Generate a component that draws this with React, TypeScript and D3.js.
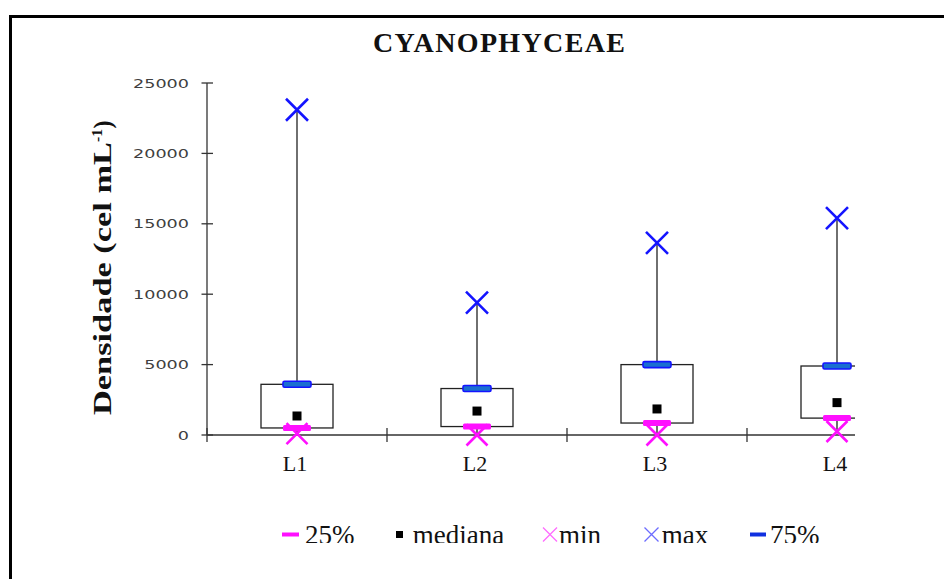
import React from "react";
import * as d3 from "d3";

// Cyanophyceae density per site: min, quartiles, median and max (cel mL-1)
const categories = ["L1", "L2", "L3", "L4"];
const minVals = [100, 0, 0, 250];
const q25Vals = [500, 600, 850, 1200];
const medianVals = [1350, 1700, 1850, 2300];
const q75Vals = [3600, 3300, 5000, 4900];
const maxVals = [23100, 9400, 13650, 15400];
const yTicks = [0, 5000, 10000, 15000, 20000, 25000];

const W = 944;
const H = 579;

const serif = "Liberation Serif, Times New Roman, DejaVu Serif, serif";
const sans = "DejaVu Sans, Verdana, sans-serif";

const MAGENTA = "#ff10ff";
const BLUE = "#1414ff";

function Cross({ cx, cy, r, color, width }: { cx: number; cy: number; r: number; color: string; width: number }) {
  return (
    <path
      d={`M${cx - r},${cy - r}L${cx + r},${cy + r}M${cx - r},${cy + r}L${cx + r},${cy - r}`}
      stroke={color}
      strokeWidth={width}
      fill="none"
    />
  );
}

export default function App() {
  const y = d3.scaleLinear().domain([0, 25000]).range([435, 83]);
  const x = d3.scaleBand<string>().domain(categories).range([207, 927]).padding(0);
  const bw = x.bandwidth();
  const cx = (c: string) => (x(c) as number) + bw / 2;
  const plotRight = 855;
  const boxHalf = 36;
  const barHalf = 14;

  const legendY = 534.5;
  const legendBase = 544;

  const serifStyle = { fontFamily: serif };

  return (
    <svg width={W} height={H} style={{ position: "absolute", left: 0, top: 0, background: "#fff" }}>
      <defs>
        <clipPath id="plotClip">
          <rect x={0} y={0} width={plotRight} height={H} />
        </clipPath>
        <clipPath id="legendClip">
          <rect x={0} y={0} width={W} height={543} />
        </clipPath>
      </defs>

      {/* outer frame */}
      <path d={`M10.5,${H}V16.5H${W}`} stroke="#000" strokeWidth={3} fill="none" />

      {/* title */}
      <text
        x={373}
        y={51.7}
        style={serifStyle}
        fontWeight="bold"
        fontSize={28}
        textLength={252}
        lengthAdjust="spacing"
        fill="#111"
      >
        CYANOPHYCEAE
      </text>

      {/* y axis label */}
      <g style={serifStyle} fontWeight="bold" fill="#111">
        <text transform="rotate(-90)" x={-415} y={111} fontSize={25} textLength={273} lengthAdjust="spacingAndGlyphs">
          Densidade  (cel mL
        </text>
        <text transform="rotate(-90)" x={-142} y={102} fontSize={14} textLength={13} lengthAdjust="spacingAndGlyphs">
          -1
        </text>
        <text transform="rotate(-90)" x={-128.5} y={111} fontSize={25} textLength={8} lengthAdjust="spacingAndGlyphs">
          )
        </text>
      </g>

      {/* y axis */}
      <line x1={207} x2={207} y1={y(25000)} y2={y(0)} stroke="#333" strokeWidth={1.3} />
      {yTicks.map((t) => (
        <g key={t}>
          <line x1={201.5} x2={213} y1={y(t)} y2={y(t)} stroke="#333" strokeWidth={1.3} />
          <text
            x={189}
            y={y(t)}
            dy="0.36em"
            textAnchor="end"
            style={{ fontFamily: sans }}
            fontSize={13}
            fill="#404040"
            textLength={String(t).length * 11.2}
            lengthAdjust="spacingAndGlyphs"
          >
            {t}
          </text>
        </g>
      ))}

      <g clipPath="url(#plotClip)">
        {/* x axis */}
        <line x1={207} x2={927} y1={y(0)} y2={y(0)} stroke="#333" strokeWidth={1.3} />
        {categories.map((c) => (
          <line key={c} x1={x(c) as number} x2={x(c) as number} y1={y(0) - 7} y2={y(0) + 7} stroke="#333" strokeWidth={1.3} />
        ))}

        {/* boxes */}
        {categories.map((c, i) => {
          const m = cx(c);
          return (
            <g key={c}>
              <line x1={m} x2={m} y1={y(maxVals[i])} y2={y(q75Vals[i])} stroke="#222" strokeWidth={1.3} />
              <line x1={m} x2={m} y1={y(q25Vals[i])} y2={y(minVals[i])} stroke="#222" strokeWidth={1.3} />
              <rect
                x={m - boxHalf}
                y={y(q75Vals[i])}
                width={boxHalf * 2}
                height={y(q25Vals[i]) - y(q75Vals[i])}
                fill="#fff"
                stroke="#222"
                strokeWidth={1.3}
              />
              <rect x={m - 4.5} y={y(medianVals[i]) - 4.5} width={9} height={9} fill="#000" />
              <Cross cx={m} cy={y(minVals[i])} r={10.5} color={MAGENTA} width={2.6} />
              <rect x={m - barHalf} y={y(q25Vals[i]) - 3} width={barHalf * 2} height={6} rx={1.5} fill={MAGENTA} />
              <rect
                x={m - barHalf}
                y={y(q75Vals[i]) - 3}
                width={barHalf * 2}
                height={6}
                rx={1.5}
                fill="#1a6fd0"
                stroke={BLUE}
                strokeWidth={1.6}
              />
              <Cross cx={m} cy={y(maxVals[i])} r={11} color={BLUE} width={2.6} />
            </g>
          );
        })}
      </g>

      {/* category labels */}
      {categories.map((c) => (
        <text key={c} x={cx(c) - 2} y={470.5} textAnchor="middle" style={serifStyle} fontSize={22} fill="#111">
          {c}
        </text>
      ))}

      {/* legend */}
      <g clipPath="url(#legendClip)" style={serifStyle} fontSize={27} fill="#111">
        <line x1={282} x2={299} y1={legendY} y2={legendY} stroke={MAGENTA} strokeWidth={4} />
        <text x={305} y={legendBase}>25%</text>

        <rect x={396} y={531} width={7} height={7} fill="#000" />
        <text x={412.7} y={legendBase}>mediana</text>

        <Cross cx={550} cy={legendY} r={7} color="#ff6cff" width={1.3} />
        <text x={559} y={legendBase}>min</text>

        <Cross cx={651.5} cy={legendY} r={7} color="#6c6cff" width={1.3} />
        <text x={661.7} y={legendBase}>max</text>

        <line x1={750} x2={766} y1={legendY} y2={legendY} stroke="#1030e0" strokeWidth={4} />
        <text x={770} y={legendBase}>75%</text>
      </g>
    </svg>
  );
}
